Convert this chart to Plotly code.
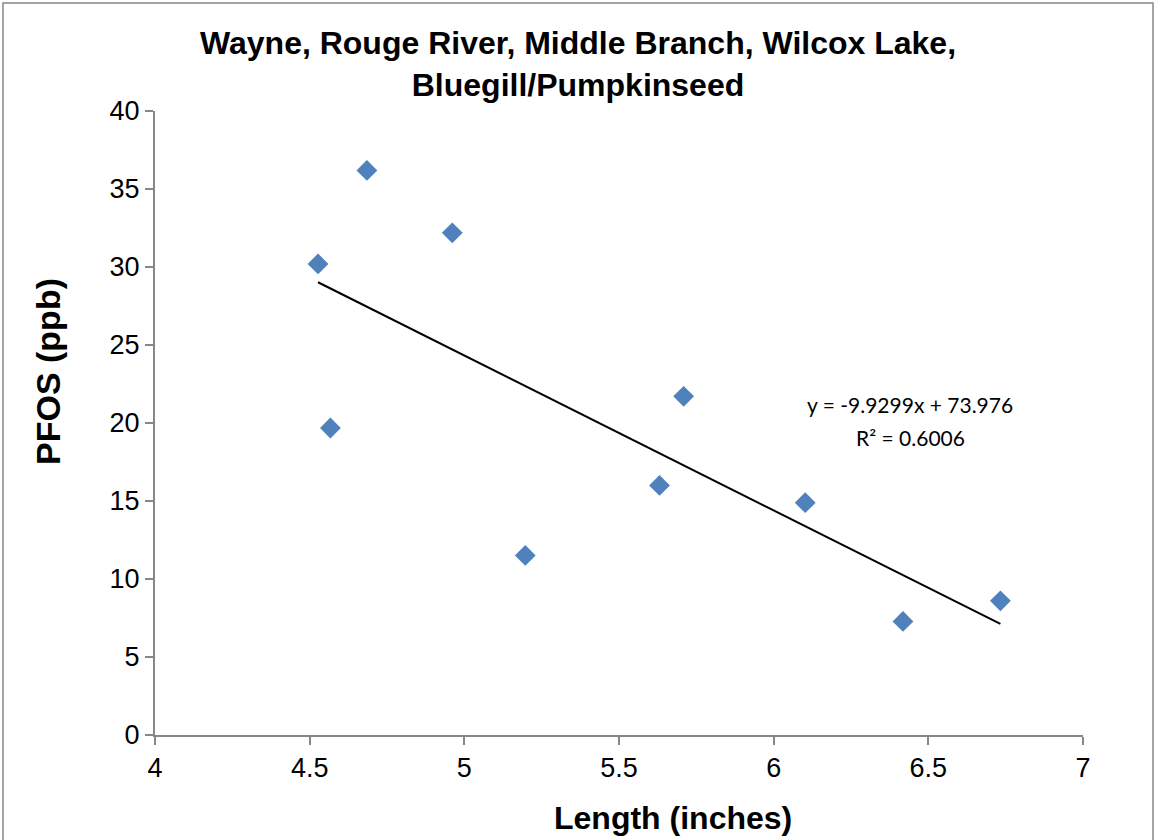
import plotly.graph_objects as go

# Data
length_in = [4.527, 4.685, 4.961, 4.567, 5.197, 5.631, 5.709, 6.102, 6.418, 6.733]
pfos_ppb = [30.20, 36.19, 32.19, 19.68, 11.51, 16.00, 21.71, 14.89, 7.28, 8.60]

# Linear trendline as stated on the chart
slope = -9.9299
intercept = 73.976
r_squared = 0.6006

x_ticks = [4, 4.5, 5, 5.5, 6, 6.5, 7]
y_ticks = [0, 5, 10, 15, 20, 25, 30, 35, 40]

title_text = "Wayne, Rouge River, Middle Branch, Wilcox Lake,<br>Bluegill/Pumpkinseed"
x_title = "Length (inches)"
y_title = "PFOS (ppb)"

x_min, x_max = min(length_in), max(length_in)
trend_x = [x_min, x_max]
trend_y = [slope * v + intercept for v in trend_x]

AX = "#878787"
FONT = "Arial, Liberation Sans, sans-serif"

fig = go.Figure()
fig.add_trace(go.Scatter(
    x=length_in, y=pfos_ppb, mode="markers",
    marker=dict(symbol="diamond", size=16, color="#4F81BD", line=dict(width=0)),
    showlegend=False, hoverinfo="x+y"))
fig.add_trace(go.Scatter(
    x=trend_x, y=trend_y, mode="lines",
    line=dict(color="black", width=2), showlegend=False, hoverinfo="skip"))

W, H = 1156, 840
L, R, T, B = 155, 73, 111, 105
pw, ph = W - L - R, H - T - B

def px_to_paper_x(px):
    return (px - L) / pw

def py_to_paper_y(py):
    return 1 - (py - T) / ph

fig.update_layout(
    width=W, height=H,
    margin=dict(l=L, r=R, t=T, b=B, pad=0),
    paper_bgcolor="white", plot_bgcolor="white",
    font=dict(family=FONT, color="black"),
    title=dict(text="<b>" + title_text + "</b>", x=578 / W, xanchor="center",
               xref="container", y=1 - 54 / H, yanchor="middle",
               font=dict(family=FONT, size=32, color="black")),
    xaxis=dict(range=[4, 7], tickvals=x_ticks, ticktext=[f"{v:g}" for v in x_ticks],
               showgrid=False, zeroline=False, showline=True, linecolor=AX, linewidth=2,
               ticks="outside", ticklen=8, tickwidth=2, tickcolor=AX,
               tickfont=dict(family=FONT, size=27, color="black")),
    yaxis=dict(range=[0, 40], tickvals=y_ticks, ticktext=[f"{v:g}" for v in y_ticks],
               showgrid=False, zeroline=False, showline=True, linecolor=AX, linewidth=2,
               ticks="outside", ticklen=8, tickwidth=2, tickcolor=AX,
               tickfont=dict(family=FONT, size=27, color="black")),
)

EQ_FONT = dict(family="Lato, Carlito, sans-serif", size=21, color="black")
annotations = [
    dict(text="<b>" + x_title + "</b>", xref="paper", yref="paper",
         x=px_to_paper_x(673), y=py_to_paper_y(818), xanchor="center", yanchor="middle",
         showarrow=False, font=dict(family=FONT, size=32, color="black")),
    dict(text="<b>" + y_title + "</b>", xref="paper", yref="paper",
         x=px_to_paper_x(48), y=py_to_paper_y(372), xanchor="center", yanchor="middle",
         textangle=-90, showarrow=False, font=dict(family=FONT, size=34, color="black")),
    dict(text=f"y = {slope:.4f}x + {intercept:.3f}",
         xref="paper", yref="paper", x=px_to_paper_x(910), y=py_to_paper_y(404),
         xanchor="center", yanchor="middle", showarrow=False, font=EQ_FONT),
    dict(text=f"R² = {r_squared:.4f}",
         xref="paper", yref="paper", x=px_to_paper_x(910), y=py_to_paper_y(437),
         xanchor="center", yanchor="middle", showarrow=False, font=EQ_FONT),
]
fig.update_layout(annotations=annotations)

# outer chart border
fig.add_shape(type="rect", xref="paper", yref="paper",
              x0=px_to_paper_x(3), x1=px_to_paper_x(1153),
              y0=py_to_paper_y(850), y1=py_to_paper_y(3),
              line=dict(color=AX, width=1.5), fillcolor="rgba(0,0,0,0)", layer="below")

fig.write_html("out.html", config={"displayModeBar": False},
               post_script="document.body.style.margin='0';document.body.style.overflow='hidden';")
